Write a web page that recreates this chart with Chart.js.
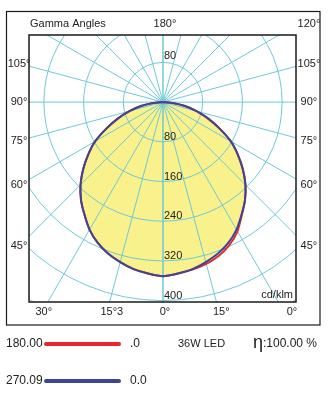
<!DOCTYPE html>
<html>
<head>
<meta charset="utf-8">
<script src="https://cdn.jsdelivr.net/npm/chart.js@4.4.1/dist/chart.umd.min.js"></script>
<style>
  body { margin: 0; background: #fff; }
  #wrap { width: 332px; height: 398px; }
</style>
</head>
<body>
<div id="wrap"><canvas id="polarChart" width="332" height="398"></canvas></div>
<script>
/*
 배광곡선 (감마각 / cd/klm)
 luminous intensity curve, C0-C180 & C90-C270
*/

// gamma angles (deg, 0 = straight down)
var gammaAngles = [0, 5, 10, 15, 20, 25, 30, 35, 40, 45, 50, 55, 60, 65, 70, 75, 80, 85, 90];

// C0 / C180 plane (cd/klm)
var planeC0   = [350, 346, 342, 337, 329, 317, 300, 277, 257, 235, 210, 184, 158, 126, 97, 70, 45, 20, 0];
var planeC180 = [350, 346, 341, 333, 324, 312, 296, 276, 257, 235, 210, 184, 158, 126, 97, 70, 45, 20, 0];
// C90 / C270 plane (cd/klm)
var planeC90C270 = [350, 346, 341, 333, 324, 312, 296, 276, 257, 235, 210, 184, 158, 126, 97, 70, 45, 20, 0];

var ringValues = [80, 160, 240, 320, 400, 480];
var ringLabels = [80, 160, 240, 320, 400];
var spokeAngles = [0, 15, 30, 45, 60, 75, 90, 105, 120, 135, 150, 165, 180];
var leftAngleLabels = [105, 90, 75, 60, 45];
var rightAngleLabels = [105, 90, 75, 60, 45];
var bottomLabels = [['30°', -30], ['15°3', -15], ['0°', 0], ['15°', 15]];

var FONT = '"Liberation Sans", Arial, sans-serif';

function toPoints(rightVals, leftVals) {
    var pts = [];
    var i, g;
    for (i = gammaAngles.length - 1; i >= 0; i--) {
        g = gammaAngles[i] * Math.PI / 180;
        pts.push({ x: rightVals[i] * Math.sin(g), y: -rightVals[i] * Math.cos(g) });
    }
    for (i = 1; i < gammaAngles.length; i++) {
        g = gammaAngles[i] * Math.PI / 180;
        pts.push({ x: -leftVals[i] * Math.sin(g), y: -leftVals[i] * Math.cos(g) });
    }
    return pts;
}

var polarGrid = {
    id: 'polarGrid',
    beforeDatasetsDraw: function(chart) {
        var ctx = chart.ctx, a = chart.chartArea;
        var xs = chart.scales.x, ys = chart.scales.y;
        var cx = xs.getPixelForValue(0), cy = ys.getPixelForValue(0);
        var unit = xs.getPixelForValue(1) - cx;

        ctx.save();
        ctx.beginPath();
        ctx.rect(a.left, a.top, a.right - a.left, a.bottom - a.top);
        ctx.clip();

        // yellow area inside the C90-C270 curve
        var pts = chart.getDatasetMeta(1).data;
        ctx.beginPath();
        pts.forEach(function(p, i) {
            if (i === 0) ctx.moveTo(p.x, p.y); else ctx.lineTo(p.x, p.y);
        });
        ctx.closePath();
        ctx.fillStyle = '#f8f18c';
        ctx.fill();

        ctx.strokeStyle = '#6ec9d8';
        ctx.lineWidth = 1;
        ringValues.forEach(function(r) {
            ctx.beginPath();
            ctx.arc(cx, cy, r * unit, 0, Math.PI * 2);
            ctx.stroke();
        });
        spokeAngles.forEach(function(deg) {
            var g = deg * Math.PI / 180;
            [1, -1].forEach(function(side) {
                ctx.beginPath();
                ctx.moveTo(cx, cy);
                ctx.lineTo(xs.getPixelForValue(side * 700 * Math.sin(g)), ys.getPixelForValue(-700 * Math.cos(g)));
                ctx.stroke();
            });
        });
        ctx.restore();
    },
    afterDraw: function(chart) {
        var ctx = chart.ctx, a = chart.chartArea;
        var xs = chart.scales.x, ys = chart.scales.y;
        var cx = xs.getPixelForValue(0), cy = ys.getPixelForValue(0);
        var unit = xs.getPixelForValue(1) - cx;
        var ds = chart.data.datasets;

        ctx.save();
        // frames
        ctx.strokeStyle = '#1a1a1a';
        ctx.lineWidth = 1.2;
        ctx.strokeRect(6.5, 11.5, 313.5, 313.5);
        ctx.lineWidth = 1.5;
        ctx.strokeRect(a.left, a.top, a.right - a.left, a.bottom - a.top);

        ctx.fillStyle = '#222';
        ctx.font = '11px ' + FONT;
        ctx.textBaseline = 'middle';

        // ring values
        ctx.textAlign = 'left';
        ctx.fillText('80', cx + 1, cy - 80 * unit - 6);
        ringLabels.forEach(function(r) {
            ctx.fillText(String(r), cx + 1, cy + r * unit - 5);
        });

        // header
        ctx.fillText('Gamma Angles', 30, 24);
        ctx.textAlign = 'center';
        ctx.fillText('180°', cx + 2, 24);
        ctx.fillText('120°', 309, 24);

        // side angles
        var d = 290;
        leftAngleLabels.forEach(function(deg) {
            var g = deg * Math.PI / 180;
            ctx.fillText(deg + '°', xs.getPixelForValue(-d), ys.getPixelForValue(-d * Math.cos(g) / Math.sin(g)));
        });
        rightAngleLabels.forEach(function(deg) {
            var g = deg * Math.PI / 180;
            ctx.fillText(deg + '°', xs.getPixelForValue(d + 4), ys.getPixelForValue(-d * Math.cos(g) / Math.sin(g)));
        });

        // bottom angles
        var by = 312;
        var depth = (by - cy) / unit;
        ctx.textAlign = 'left';
        bottomLabels.forEach(function(b) {
            var g = b[1] * Math.PI / 180;
            var px = xs.getPixelForValue(depth * Math.tan(g));
            ctx.fillText(b[0], px - ctx.measureText(b[0].slice(0, 3)).width / 2 + 2, by);
        });
        ctx.textAlign = 'center';
        ctx.fillText('0°', a.right - 4, by);

        ctx.textAlign = 'right';
        ctx.fillText('cd/klm', a.right - 3, 295);

        // legend
        ctx.textAlign = 'left';
        ctx.font = '12px ' + FONT;
        [[ds[0], '.0', 344], [ds[1], '0.0', 381]].forEach(function(row) {
            ctx.fillStyle = '#222';
            ctx.fillText(row[0].label, 6, row[2]);
            ctx.fillText(row[1], 130, row[2]);
            ctx.strokeStyle = row[0].borderColor;
            ctx.lineWidth = 4;
            ctx.lineCap = 'round';
            ctx.beginPath();
            ctx.moveTo(46, row[2]);
            ctx.lineTo(119, row[2]);
            ctx.stroke();
        });
        ctx.fillStyle = '#222';
        ctx.font = '11px ' + FONT;
        ctx.fillText('36W LED', 178, 344);
        ctx.font = '18px ' + FONT;
        ctx.fillText('η', 253, 343);
        ctx.font = '12px ' + FONT;
        ctx.fillText(':100.00 %', 263, 344);
        ctx.restore();
    }
};

var ctx = document.getElementById('polarChart').getContext('2d');
var polarChart = new Chart(ctx, {
    type: 'scatter',
    data: {
        datasets: [{
            label: '180.00',
            data: toPoints(planeC0, planeC180),
            showLine: true,
            borderColor: '#e4282e',
            borderWidth: 2,
            pointRadius: 0,
            tension: 0.2,
            order: 2
        }, {
            label: '270.09',
            data: toPoints(planeC90C270, planeC90C270),
            showLine: true,
            borderColor: '#3d4596',
            borderWidth: 2,
            pointRadius: 0,
            tension: 0.2,
            order: 1
        }]
    },
    options: {
        responsive: false,
        animation: false,
        layout: { padding: { left: 29, right: 36, top: 35, bottom: 96 } },
        scales: {
            x: { type: 'linear', min: -270, max: 268, display: false },
            y: { type: 'linear', min: -402, max: 135, display: false }
        },
        plugins: {
            legend: { display: false },
            tooltip: { enabled: false }
        }
    },
    plugins: [polarGrid]
});
</script>
</body>
</html>
